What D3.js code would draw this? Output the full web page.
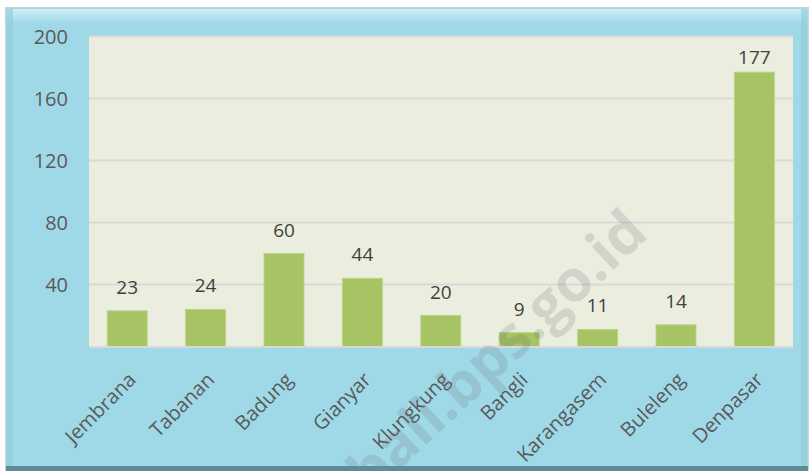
<!DOCTYPE html>
<html><head><meta charset="utf-8">
<script src="https://cdn.jsdelivr.net/npm/d3@7"></script>
<style>html,body{margin:0;padding:0;background:#fff;}</style>
</head><body>
<svg id="c" width="812" height="473"></svg>
<script>
const categories = ["Jembrana","Tabanan","Badung","Gianyar","Klungkung","Bangli","Karangasem","Buleleng","Denpasar"];
const values = [23,24,60,44,20,9,11,14,177];
const yTicks = [40,80,120,160,200];
const watermark = "bali.bps.go.id";

const svg = d3.select("#c");
const defs = svg.append("defs");
const tg = defs.append("linearGradient").attr("id","topHi").attr("x1",0).attr("y1",0).attr("x2",0).attr("y2",1);
tg.append("stop").attr("offset",0).attr("stop-color","#cdeff6");
tg.append("stop").attr("offset",1).attr("stop-color","#a0d9e8");
defs.append("clipPath").attr("id","frameClip").append("rect").attr("x",7).attr("y",9).attr("width",800).attr("height",458);

// frame
svg.append("rect").attr("x",5.5).attr("y",7.5).attr("width",803).attr("height",463).attr("fill","#9fd9e8").attr("stroke","#c9d3d6").attr("stroke-width",1);
svg.append("rect").attr("x",7).attr("y",9).attr("width",800).attr("height",14).attr("fill","url(#topHi)");
svg.append("rect").attr("x",7).attr("y",9).attr("width",6).attr("height",459).attr("fill","#8fc9d8").attr("opacity",0.6);
svg.append("rect").attr("x",801).attr("y",9).attr("width",6).attr("height",459).attr("fill","#8fc9d8").attr("opacity",0.6);

const x = d3.scaleBand().domain(categories).range([88, 793.6]).paddingInner(0.49).paddingOuter(0.245);
const y = d3.scaleLinear().domain([0,200]).range([346.5, 36.5]);

// plot area
svg.append("rect").attr("x",89).attr("y",y(200)).attr("width",704).attr("height",y(0)-y(200)).attr("fill","#ebeedf");
svg.append("g").selectAll("line").data(yTicks).join("line")
  .attr("x1",89).attr("x2",793).attr("y1",d=>y(d)).attr("y2",d=>y(d))
  .attr("stroke","#d9d9d9").attr("stroke-width",2);

// y axis labels
const yAxis = d3.axisLeft(y).tickValues(yTicks).tickSize(0).tickPadding(0);
const ya = svg.append("g").attr("transform","translate(68,0)").call(yAxis);
ya.select(".domain").remove();
ya.selectAll("text").attr("font-family","'Open Sans', sans-serif").attr("font-size",20).attr("fill","#595959").attr("dy","0.35em");

// bars
svg.append("g").selectAll("rect").data(values).join("rect")
  .attr("x",(d,i)=>x(categories[i])).attr("width",x.bandwidth())
  .attr("y",d=>y(d)).attr("height",d=>y(0)-y(d))
  .attr("fill","#a6c463").attr("stroke","#bdd58b").attr("stroke-width",1);

// axis line
svg.append("line").attr("x1",89).attr("x2",793).attr("y1",y(0)+0.5).attr("y2",y(0)+0.5).attr("stroke","#d9d9d9").attr("stroke-width",2);

// value labels (clamped inside the plot top)
svg.append("g").selectAll("text").data(values).join("text")
  .attr("x",(d,i)=>x(categories[i])+x.bandwidth()/2)
  .attr("y",d=>Math.max(y(d)-17, y(200)+27))
  .attr("text-anchor","middle")
  .attr("font-family","'Open Sans', sans-serif").attr("font-size",19).attr("fill","#404040")
  .text(d=>d);

// x labels
const xAxis = d3.axisBottom(x).tickSize(0).tickPadding(0);
const xa = svg.append("g").call(xAxis);
xa.select(".domain").remove();
xa.selectAll(".tick").attr("transform",d=>`translate(${x(d)+x.bandwidth()/2+10},381)`);
xa.selectAll("text").attr("y",0).attr("dy",0).attr("transform","rotate(-45)").attr("text-anchor","end")
  .attr("font-family","'Open Sans', sans-serif").attr("font-size",20).attr("fill","#595959");

// watermark
svg.append("g").attr("clip-path","url(#frameClip)").append("text")
  .attr("transform","translate(650,236) rotate(-43)")
  .attr("text-anchor","end")
  .attr("font-family","'Open Sans', sans-serif").attr("font-weight","bold").attr("font-size",58)
  .attr("fill","#6e6e6e").attr("opacity",0.2)
  .text(watermark);

// bottom frame edge
svg.append("rect").attr("x",6).attr("y",466).attr("width",802).attr("height",5).attr("fill","#5f8a96");
</script>
</body></html>
